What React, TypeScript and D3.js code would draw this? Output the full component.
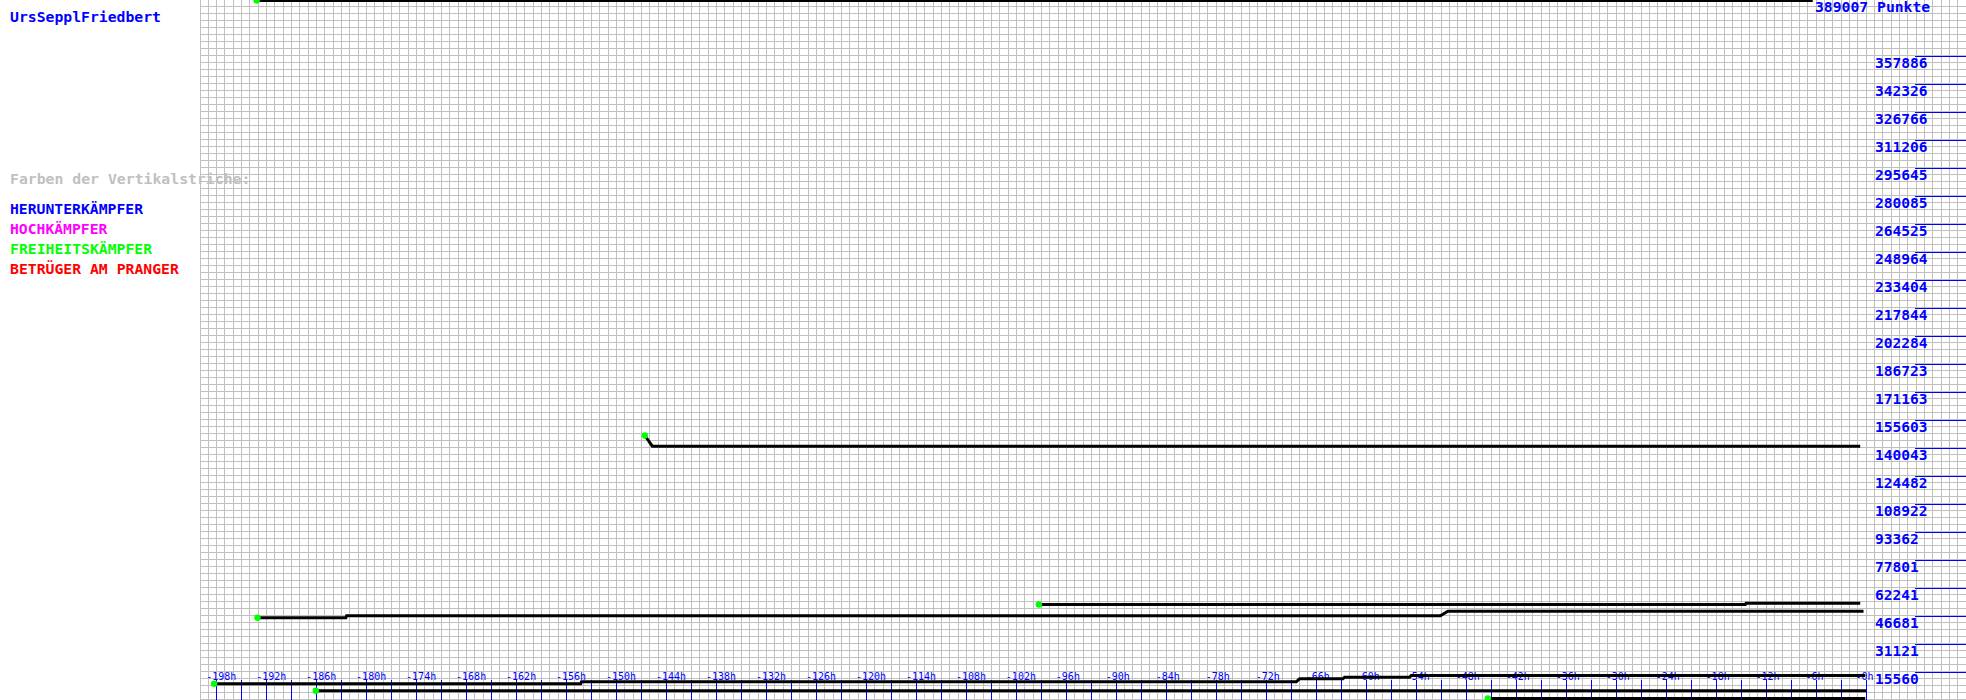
import React from 'react';
import * as d3 from 'd3';

const W = 1966;
const H = 700;

const playerName = 'UrsSepplFriedbert';
const legendTitle = 'Farben der Vertikalstriche:';
const legendItems = ['HERUNTERKÄMPFER', 'HOCHKÄMPFER', 'FREIHEITSKÄMPFER', 'BETRÜGER AM PRANGER'];
const legendColors = ['#0000ff', '#ff00ff', '#00ff00', '#ff0000'];

const maxPoints = 389007;
const maxLabel = '389007 Punkte';
const yTickLabels = [
  '357886', '342326', '326766', '311206', '295645', '280085', '264525', '248964',
  '233404', '217844', '202284', '186723', '171163', '155603', '140043', '124482',
  '108922', '93362', '77801', '62241', '46681', '31121', '15560',
];
const xLabelHours = [
  -198, -192, -186, -180, -174, -168, -162, -156, -150, -144, -138, -132, -126, -120,
  -114, -108, -102, -96, -90, -84, -78, -72, -66, -60, -54, -48, -42, -36, -30, -24,
  -18, -12, -6, 0,
];

// [hour, points]
const seriesA: [number, number][] = [[-193.2, 389007], [-6.4, 389007]];
const seriesB: [number, number][] = [[-146.6, 147270], [-145.7, 141320], [-0.7, 141320]];
const seriesC: [number, number][] = [
  [-193.1, 45960], [-182.5, 45960], [-182.4, 47070], [-51.1, 47070], [-50.2, 49630], [-0.3, 49630],
];
const seriesD: [number, number][] = [[-99.3, 53350], [-14.5, 53350], [-14.4, 54070], [-0.7, 54070]];
const seriesE: [number, number][] = [
  [-198.3, 9280], [-154.3, 9280], [-154.2, 10400], [-68.4, 10400], [-68.0, 12060],
  [-62.8, 12060], [-62.6, 12950], [-54.8, 12950], [-54.6, 13890], [-0.1, 13890],
];
const seriesF: [number, number][] = [[-186.1, 5390], [0, 5390]];
const seriesG: [number, number][] = [[-45.4, 1110], [-0.1, 1110]];
const allSeries = [seriesA, seriesB, seriesC, seriesD, seriesE, seriesF, seriesG];

const mono = '"DejaVu Sans Mono", "Liberation Mono", monospace';

function BigText(props: { x: number; y: number; text: string; fill: string }) {
  const { x, y, text, fill } = props;
  return (
    <text
      x={x}
      y={y}
      fill={fill}
      fontFamily={mono}
      fontSize={13.5}
      fontWeight="bold"
      textLength={text.length * 8.94 - 1}
      lengthAdjust="spacingAndGlyphs"
    >
      {text}
    </text>
  );
}

export default function App() {
  const x = d3.scaleLinear().domain([-200, 12]).range([200, 1966]);
  const y = d3.scaleLinear().domain([0, maxPoints]).range([H, 0]);

  const vLines = d3.range(0, 213).map((i) => Math.floor(x(-200 + i)) + 0.5);
  const hLines = d3.range(1, 101).map((k) => 7 * k - 0.5);
  const ticks = d3.range(-198, 1, 3);

  const line = d3
    .line<[number, number]>()
    .x((d) => x(d[0]))
    .y((d) => y(d[1]) + 0.5);

  return (
    <svg width={W} height={H} style={{ position: 'absolute', left: 0, top: 0, background: '#fff' }}>
      <rect x={0} y={0} width={W} height={H} fill="#fff" />
      <g stroke="#c0c0c0" strokeWidth={1}>
        {vLines.map((vx, i) => (
          <line key={'v' + i} x1={vx} x2={vx} y1={0} y2={H} />
        ))}
        {hLines.map((hy, i) => (
          <line key={'h' + i} x1={200} x2={W} y1={hy} y2={hy} />
        ))}
      </g>

      <BigText x={10} y={21.5} text={playerName} fill="#0000ff" />
      <BigText x={10} y={183.5} text={legendTitle} fill="#c0c0c0" />
      {legendItems.map((t, i) => (
        <BigText key={t} x={10} y={213.5 + i * 20} text={t} fill={legendColors[i]} />
      ))}

      <BigText x={1815} y={11.5} text={maxLabel} fill="#0000ff" />
      {yTickLabels.map((lab) => {
        const ly = Math.round(y(+lab)) + 0.5;
        return (
          <g key={lab}>
            <line x1={1915} x2={W} y1={ly} y2={ly} stroke="#0000ff" strokeWidth={1} />
            <BigText x={1875} y={ly + 11.5} text={lab} fill="#0000ff" />
          </g>
        );
      })}

      <g stroke="#0000ff" strokeWidth={1}>
        {ticks.map((h) => {
          const tx = Math.floor(x(h)) + 0.5;
          return <line key={'t' + h} x1={tx} x2={tx} y1={680} y2={H} />;
        })}
      </g>
      {xLabelHours.map((h) => (
        <text
          key={'l' + h}
          x={x(h) - 10.5}
          y={680}
          fill="#0000ff"
          fontFamily={mono}
          fontSize={10}
        >
          {'-' + Math.abs(h) + 'h'}
        </text>
      ))}

      {allSeries.map((s, i) => (
        <path key={'s' + i} d={line(s) || ''} fill="none" stroke="#000" strokeWidth={3} />
      ))}
      {allSeries.map((s, i) => (
        <circle key={'c' + i} cx={x(s[0][0])} cy={y(s[0][1]) + 0.5} r={3.2} fill="#00ff00" />
      ))}
    </svg>
  );
}
